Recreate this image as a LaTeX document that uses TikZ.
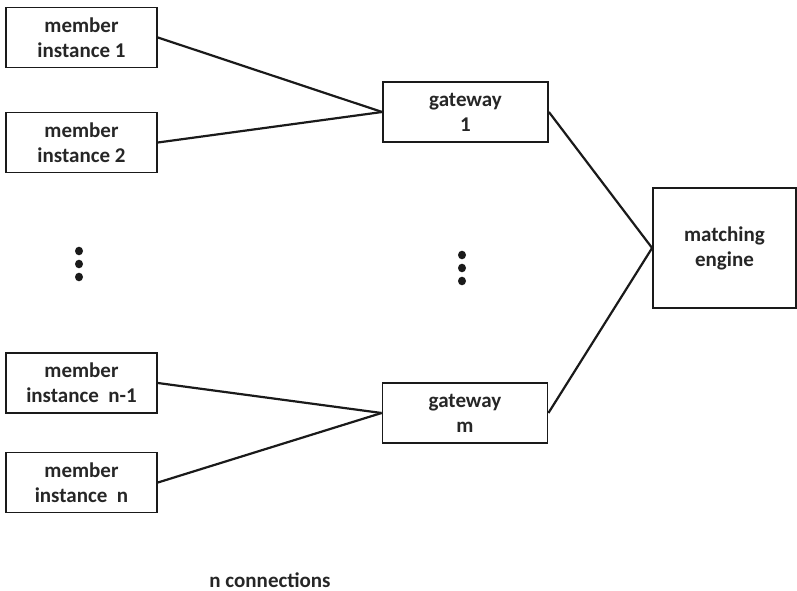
\documentclass[tikz,border=0pt]{standalone}
\usepackage{fontspec}
\setmainfont{Carlito}
\definecolor{ink}{HTML}{1A1A1A}
\definecolor{txt}{HTML}{262626}
\begin{document}
\begin{tikzpicture}[x=1pt,y=-1pt,
  box/.style={draw=ink, line width=1.8pt, inner sep=0pt, align=center,
    text=txt, font=\fontsize{21}{25}\selectfont\bfseries},
  member/.style={box, minimum width=151pt, minimum height=60pt},
  gate/.style={box, minimum width=165pt, minimum height=60pt},
  link/.style={draw=ink, line width=2.2pt},
  dot/.style={fill=ink, draw=none}
]
\useasboundingbox (0,0) rectangle (797,591);

% member instances
\node[member] (m1)  at (81.5,37.5)  {member\\instance 1};
\node[member] (m2)  at (81.5,142.5) {member\\instance 2};
\node[member] (mn1) at (81.5,383)   {member\\instance\ \ n-1};
\node[member] (mn)  at (81.5,482.5) {member\\instance\ \ n};

% gateways
\node[gate] (g1) at (465.5,112) {gateway\\1};
\node[gate] (gm) at (465,413)   {gateway\\m};

% matching engine
\node[box, minimum width=143pt, minimum height=120pt] (me) at (724.5,248) {matching\\engine};

% connections
\draw[link] (m1.east)  -- (g1.west);
\draw[link] (m2.east)  -- (g1.west);
\draw[link] (mn1.east) -- (gm.west);
\draw[link] (mn.east)  -- (gm.west);
\draw[link] (g1.east)  -- (me.west);
\draw[link] (gm.east)  -- (me.west);

% vertical ellipses
\foreach \y in {251,264,277} \fill[dot] (79,\y) ellipse (4pt and 4.3pt);
\foreach \y in {255,268,281} \fill[dot] (462,\y) ellipse (4pt and 4.3pt);

% caption
\node[text=txt, font=\fontsize{21}{25}\selectfont\bfseries, inner sep=0pt] (cap) at (270,580) {n connections};
\end{tikzpicture}
\end{document}
